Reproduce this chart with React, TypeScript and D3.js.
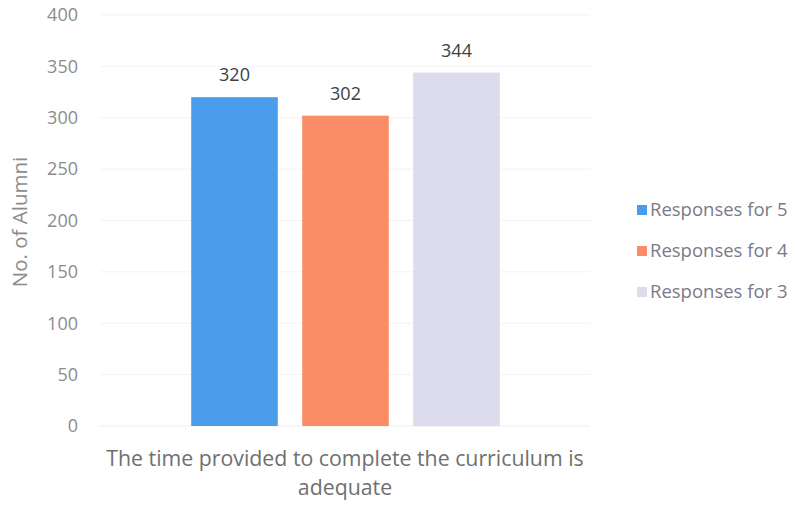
import React from "react";
import * as d3 from "d3";

const series = ["Responses for 5", "Responses for 4", "Responses for 3"];
const values = [320, 302, 344];
const colors = ["#4b9cea", "#fb8d66", "#dcdcec"];
const yTicks = [0, 50, 100, 150, 200, 250, 300, 350, 400];
const categoryLines = ["The time provided to complete the curriculum is", "adequate"];
const yTitle = "No. of Alumni";

const W = 797;
const H = 505;
const FONT = "'Open Sans', 'Liberation Sans', sans-serif";

export default function App() {
  const y = d3.scaleLinear().domain([0, 400]).range([426, 15]);
  const x = d3.scaleBand<string>().domain(series).range([179, 512]).paddingInner(0.22).paddingOuter(0.11);
  const gridX0 = 100;
  const gridX1 = 590;
  return (
    <svg width={W} height={H} style={{ position: "absolute", left: 0, top: 0, background: "#fff" }} fontFamily={FONT}>
      <rect width={W} height={H} fill="#fff" />
      {yTicks.map((t) => (
        <g key={t}>
          {t > 0 && <line x1={gridX0} x2={gridX1} y1={y(t)} y2={y(t)} stroke="#f3f3f5" strokeWidth={1} />}
          <text x={78} y={y(t)} dy="0.35em" textAnchor="end" fontSize={18} fill="#8c8c8c">
            {t}
          </text>
        </g>
      ))}
      <line x1={gridX0} x2={gridX1} y1={y(0)} y2={y(0)} stroke="#eeeeee" />
      <text
        transform={`translate(20,${222}) rotate(-90)`}
        textAnchor="middle"
        dy="0.35em"
        fontSize={20.5}
        fill="#8c8c8c"
      >
        {yTitle}
      </text>
      {series.map((s, i) => (
        <g key={s}>
          <rect x={x(s)} y={y(values[i])} width={x.bandwidth()} height={y(0) - y(values[i])} fill={colors[i]} />
          <text x={(x(s) as number) + x.bandwidth() / 2} y={y(values[i]) - 16} textAnchor="middle" fontSize={18} fill="#404040">
            {values[i]}
          </text>
        </g>
      ))}
      {categoryLines.map((l, i) => (
        <text key={i} x={345} y={466 + i * 29} textAnchor="middle" fontSize={21.3} fill="#707070">
          {l}
        </text>
      ))}
      {series.map((s, i) => (
        <g key={s} transform={`translate(637,${210 + i * 41})`}>
          <rect x={0} y={-5} width={10} height={10} fill={colors[i]} />
          <text x={13} y={0} dy="0.35em" fontSize={18.5} fill="#7a7a8a">
            {s}
          </text>
        </g>
      ))}
    </svg>
  );
}
